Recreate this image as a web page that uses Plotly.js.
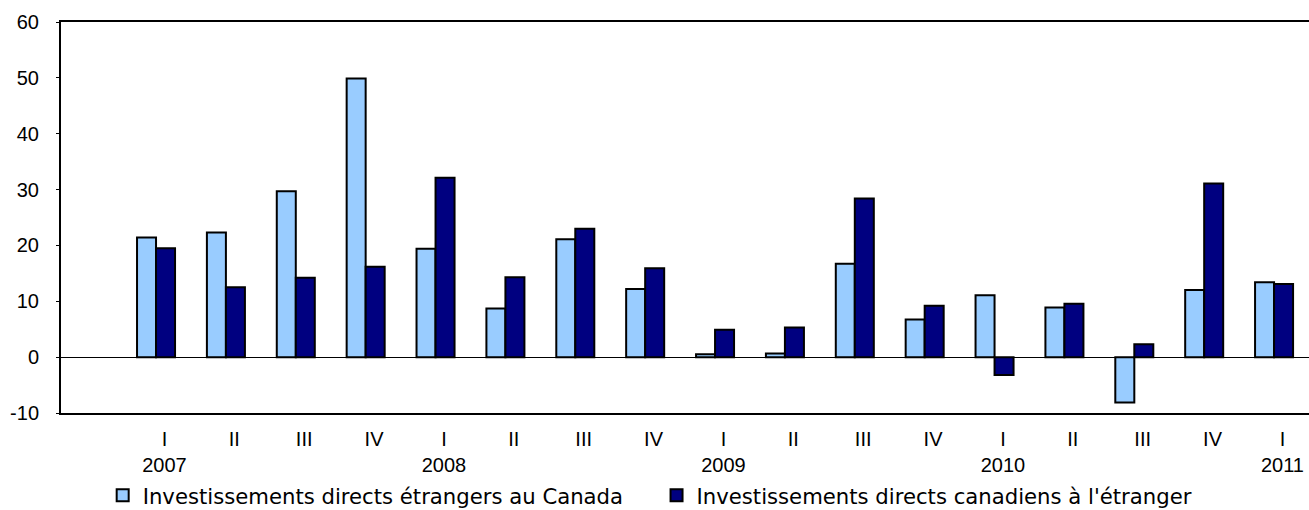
<!DOCTYPE html>
<html>
<head>
<meta charset="utf-8">
<script src="https://cdn.plot.ly/plotly-3.0.1.min.js"></script>
<style>html,body{margin:0;padding:0;background:#fff;}#chart{width:1309px;height:510px;}</style>
</head>
<body>
<div id="chart"></div>
<script>
const quarters = ["I","II","III","IV","I","II","III","IV","I","II","III","IV","I","II","III","IV","I"];
const years = ["2007","","","","2008","","","","2009","","","","2010","","","","2011"];
const foreignInCanada = [21.4, 22.3, 29.7, 49.9, 19.4, 8.7, 21.1, 12.2, 0.5, 0.65, 16.7, 6.75, 11.1, 8.9, -8.1, 12.0, 13.4];
const canadianAbroad = [19.5, 12.5, 14.2, 16.2, 32.1, 14.3, 23.0, 15.9, 4.9, 5.3, 28.4, 9.2, -3.2, 9.55, 2.3, 31.1, 13.1];
const seriesNames = ["Investissements directs étrangers au Canada", "Investissements directs canadiens à l'étranger"];
const yTicks = [-10, 0, 10, 20, 30, 40, 50, 60];

const idx = quarters.map((q, i) => i);
const tickText = quarters.map((q, i) => years[i] ? q + "<br>" + years[i] : q);
const tickPos = idx.map(i => i + 0.12);

const traces = [
  {type: "bar", x: idx, y: foreignInCanada, name: seriesNames[0], legend: "legend",
   marker: {color: "#99CCFF", line: {color: "#000000", width: 2}}, hoverinfo: "y"},
  {type: "bar", x: idx, y: canadianAbroad, name: seriesNames[1], legend: "legend2",
   marker: {color: "#000080", line: {color: "#000000", width: 2}}, hoverinfo: "y"}
];

const legendFont = {family: "DejaVu Sans, Verdana, sans-serif", size: 21.2, color: "#000"};

const layout = {
  width: 1309, height: 510,
  margin: {l: 61, r: 0, t: 22, b: 97, autoexpand: false},
  paper_bgcolor: "#fff", plot_bgcolor: "#fff",
  barmode: "group", bargap: 0.456, bargroupgap: 0,
  font: {family: "Liberation Sans, Arial, sans-serif", size: 20, color: "#000"},
  showlegend: true,
  legend: {orientation: "h", x: 0.0334, xanchor: "left", y: -0.211, yanchor: "middle",
           font: legendFont, bgcolor: "rgba(0,0,0,0)", borderwidth: 0, itemclick: false},
  legend2: {orientation: "h", x: 0.4772, xanchor: "left", y: -0.211, yanchor: "middle",
            font: legendFont, bgcolor: "rgba(0,0,0,0)", borderwidth: 0, itemclick: false},
  xaxis: {
    range: [-1.36, 16.5], tickmode: "array", tickvals: tickPos, ticktext: tickText,
    ticks: "", showgrid: false, zeroline: false,
    showline: true, linecolor: "#000", linewidth: 2, mirror: true,
    tickfont: {family: "Liberation Sans, Arial, sans-serif", size: 20, color: "#000"},
    ticklabelstandoff: 7, fixedrange: true
  },
  yaxis: {
    range: [-10, 60], tickmode: "array", tickvals: yTicks, ticktext: yTicks.map(String),
    ticks: "outside", ticklen: 3, tickwidth: 1, tickcolor: "#000",
    showgrid: false, zeroline: true, zerolinecolor: "#000", zerolinewidth: 1,
    showline: true, linecolor: "#000", linewidth: 2, mirror: false,
    tickfont: {family: "Liberation Sans, Arial, sans-serif", size: 20, color: "#000"},
    ticklabelstandoff: 13, fixedrange: true
  }
};

Plotly.newPlot("chart", traces, layout, {displayModeBar: false, staticPlot: true});
</script>
</body>
</html>
